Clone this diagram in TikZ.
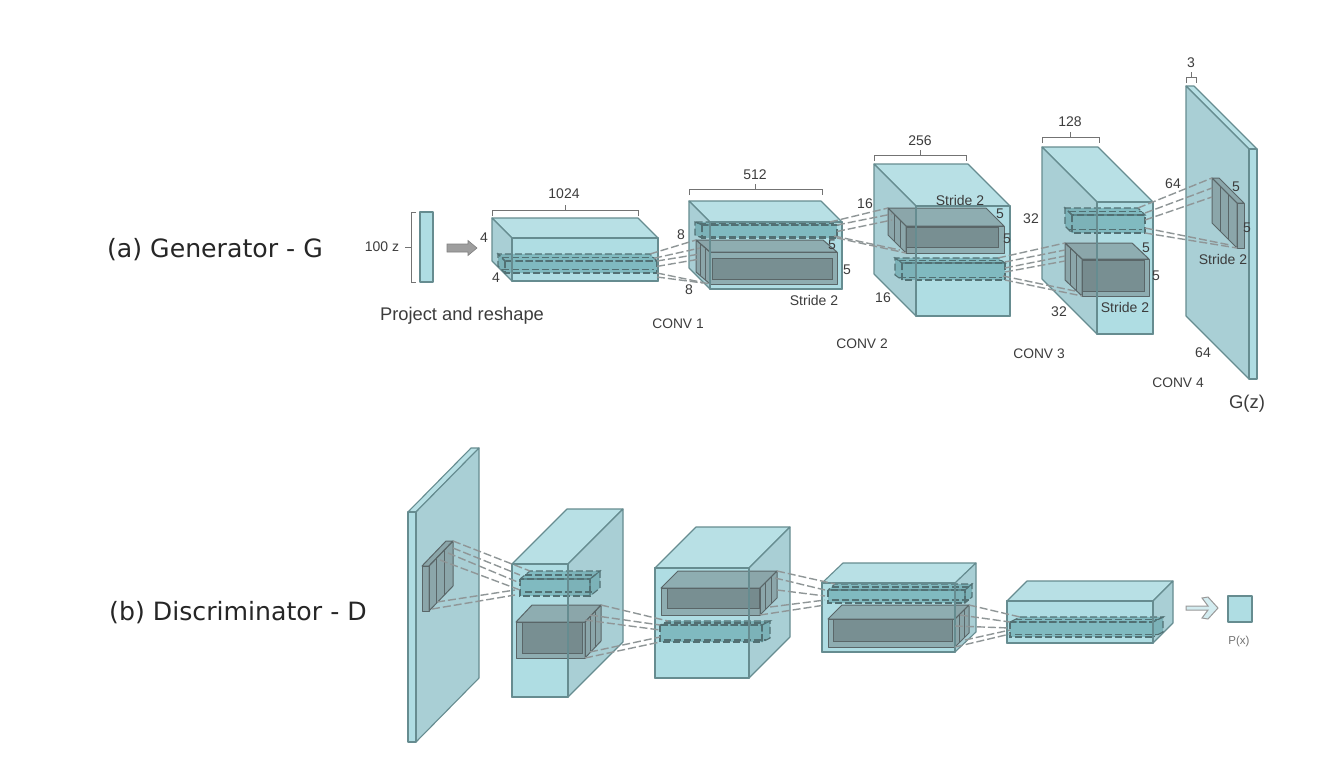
\documentclass[tikz,border=0pt]{standalone}
\usepackage{fontspec}
\setmainfont{Liberation Sans}
\newfontfamily\capfont{DejaVu Sans}
\definecolor{cfront}{HTML}{AFDDE3}
\definecolor{ctop}{HTML}{B8E0E5}
\definecolor{cside}{HTML}{A9CFD5}
\definecolor{cedge}{HTML}{668C90}
\definecolor{cgray}{HTML}{6F7F80}
\definecolor{cdark}{HTML}{5A6668}
\definecolor{cteal}{HTML}{3F8A90}
\definecolor{ctxt}{HTML}{3C3C3C}
\definecolor{cdash}{HTML}{8F9697}
\tikzset{
  edge/.style={draw=cedge,line width=1.1pt,line join=round},
  bigfront/.style={edge,fill=cfront},
  bigtop/.style={edge,fill=ctop},
  bigside/.style={edge,fill=cside},
  grayface/.style={draw=cdark,line width=1pt,line join=round,fill=cgray,fill opacity=.5},
  grayinner/.style={draw=cdark,line width=1pt,fill=cdark,fill opacity=.42},
  kernface/.style={draw=cedge!80!black,line width=1.1pt,dash pattern=on 7pt off 3pt,fill=cteal,fill opacity=.42},
  kernline/.style={draw=cedge!80!black,line width=1.1pt,dash pattern=on 7pt off 3pt},
  conn/.style={draw=cdash,line width=1.4pt,dash pattern=on 8pt off 3pt},
  lab/.style={text=ctxt,font=\fontsize{14}{16}\selectfont,inner sep=0pt,yshift=-1pt},
  conv/.style={text=ctxt,font=\fontsize{13.8}{16}\selectfont,inner sep=0pt,yshift=-1pt},
  capt/.style={text=black!85,font=\capfont\fontsize{25.2}{28}\selectfont,inner sep=0pt,yshift=-1.5pt},
  brace/.style={draw=black!55,line width=1pt},
}
% name, x1,y1,x2,y2 of the front face, dx,dy to the back face, three face styles
\newcommand{\cub}[9]{%
  \coordinate (#1-ftl) at (#2,#3);
  \coordinate (#1-ftr) at (#4,#3);
  \coordinate (#1-fbl) at (#2,#5);
  \coordinate (#1-fbr) at (#4,#5);
  \coordinate (#1-btl) at ({#2+(#6)},{#3+(#7)});
  \coordinate (#1-btr) at ({#4+(#6)},{#3+(#7)});
  \coordinate (#1-bbl) at ({#2+(#6)},{#5+(#7)});
  \coordinate (#1-bbr) at ({#4+(#6)},{#5+(#7)});
  \path[#8] (#1-ftl) -- (#1-ftr) -- (#1-btr) -- (#1-btl) -- cycle;
  \ifdim#6pt<0pt
    \path[#9] (#1-ftl) -- (#1-fbl) -- (#1-bbl) -- (#1-btl) -- cycle;
  \else
    \path[#9] (#1-ftr) -- (#1-fbr) -- (#1-bbr) -- (#1-btr) -- cycle;
  \fi
}
\newcommand{\bigbox}[7]{%
  \cub{#1}{#2}{#3}{#4}{#5}{#6}{#7}{bigtop}{bigside}
  \path[bigfront] (#1-ftl) rectangle (#1-fbr);
}
% re-stroke the front edges over what lies inside
\newcommand{\reedge}[1]{\draw[edge] (#1-ftl) rectangle (#1-fbr);}
% gray box with an inner darker face: name, front, offset, inner rect
\newcommand{\graybox}[7]{%
  \cub{#1}{#2}{#3}{#4}{#5}{#6}{#7}{grayface}{grayface}
  \path[grayface] (#1-ftl) rectangle (#1-fbr);
  \ifdim#6pt<0pt
    \foreach \f in {.33,.66}{
      \draw[draw=cdark,line width=1pt] ($(#1-ftl)!\f!(#1-btl)$) -- ($(#1-fbl)!\f!(#1-bbl)$);
    }
  \else
    \foreach \f in {.33,.66}{
      \draw[draw=cdark,line width=1pt] ($(#1-ftr)!\f!(#1-btr)$) -- ($(#1-fbr)!\f!(#1-bbr)$);
    }
  \fi
}
\newcommand{\kernbox}[7]{%
  \cub{#1}{#2}{#3}{#4}{#5}{#6}{#7}{kernface}{kernface}
  \path[kernface] (#1-ftl) rectangle (#1-fbr);
  \draw[kernline] ($(#1-ftl)!.5!(#1-btl)$) -- ($(#1-ftr)!.5!(#1-btr)$);
  \draw[kernline] ($(#1-fbl)!.5!(#1-bbl)$) -- ($(#1-fbr)!.5!(#1-bbr)$);
}
\newcommand{\topbrace}[4]{% x1,x2,y,centre
  \draw[brace] (#1,#3+6) -- (#1,#3) -- (#2,#3) -- (#2,#3+6);
  \draw[brace] (#4,#3) -- (#4,#3-5);
}
\newcommand{\lb}[4]{\node[lab] (#1) at (#2,#3) {#4};}
\newcommand{\cv}[4]{\node[conv] (#1) at (#2,#3) {#4};}
\usetikzlibrary{calc}
\begin{document}
\begin{tikzpicture}[x=1pt,y=-1pt]
\useasboundingbox (0,0) rectangle (1342,756);
\fill[white] (0,0) rectangle (1342,756);

% ---- captions
\node[capt] (capa) at (215,248) {(a) Generator - G};
\node[capt] (capb) at (238,611) {(b) Discriminator - D};

% ---- z vector
\path[bigfront] (420,212) rectangle (433,282);
\draw[brace] (416,212) -- (411,212) -- (411,282) -- (416,282);
\draw[brace] (411,247) -- (405,247);
\lb{zlab}{382}{246}{100 z}
\path[draw=black!50,fill=black!38,line width=.6pt] (447,244) -- (468,244) -- (468,240.5) -- (477,248) -- (468,255.5) -- (468,252) -- (447,252) -- cycle;
\node[text=ctxt,font=\fontsize{18.3}{20}\selectfont,inner sep=0pt,yshift=-1.5pt] (proj) at (462,314) {Project and reshape};

% ---- generator boxes
\bigbox{ga}{512}{238}{658}{281}{-20}{-20}
\kernbox{gak}{505}{261}{657}{273}{-7}{-7}
\reedge{ga}

\bigbox{gb}{710}{222}{842}{289}{-21}{-21}
\graybox{gbg}{710}{252}{837}{284}{-14}{-12}
\path[grayinner] (712,258) rectangle (832,279);
\kernbox{gbk}{702}{225}{837}{238}{-7}{-3}
\reedge{gb}

\bigbox{gc}{916}{206}{1010}{316}{-42}{-42}
\graybox{gcg}{906}{226}{1004}{253}{-18}{-18}
\path[grayinner] (906,227) rectangle (998,247);
\kernbox{gck}{902}{263}{1005}{280}{-7}{-5}
\reedge{gc}

\bigbox{gd}{1097}{202}{1153}{334}{-55}{-55}
\graybox{gdg}{1082}{259}{1149}{296}{-17}{-16}
\path[grayinner] (1082,260) rectangle (1144,291);
\kernbox{gdk}{1072}{215}{1145}{233}{-7}{-7}
\reedge{gd}

\bigbox{ge}{1249}{149}{1257}{379}{-63}{-63}
\graybox{geg}{1237}{203}{1244}{248}{-25}{-25}

% ---- generator connectors
\coordinate (g1a) at (700,248);
\coordinate (g1b) at (700,254);
\coordinate (g1c) at (700,259);
\coordinate (g1d) at (703,283);
\draw[conn] (gak-btr) -- (gbg-btl);
\draw[conn] ($(gak-ftr)!.4!(gak-btr)$) -- (g1a);
\draw[conn] (gak-ftr) -- (g1b);
\draw[conn] ($(gak-ftr)!.45!(gak-fbr)$) -- (g1c);
\draw[conn] (gak-fbr) -- (gbg-fbl);
\draw[conn] ($(gak-fbr)+(0,4)$) -- (g1d);

\coordinate (g2a) at (892,214);
\coordinate (g2b) at (892,220);
\coordinate (g2c) at (900,250);
\draw[conn] (gbk-btr) -- (gcg-btl);
\draw[conn] (gbk-ftr) -- (g2a);
\draw[conn] ($(gbk-ftr)!.5!(gbk-fbr)$) -- (g2b);
\draw[conn] (gbk-fbr) -- (gcg-fbl);
\draw[conn] ($(gbk-fbr)+(-3,-2)$) -- (g2c);

\coordinate (g3a) at (1065,250);
\coordinate (g3b) at (1065,256);
\coordinate (g3c) at (1075,291);
\coordinate (g3d) at (1065,261);
\draw[conn] (gck-btr) -- (gdg-btl);
\draw[conn] ($(gck-ftr)+(0,-1)$) -- (g3a);
\draw[conn] ($(gck-ftr)+(0,5)$) -- (g3b);
\draw[conn] (gck-fbr) -- (gdg-fbl);
\draw[conn] ($(gck-fbr)+(-2,-4)$) -- (g3c);
\draw[conn] ($(gck-ftr)+(0,9)$) -- (g3d);

\coordinate (g4a) at (1212,188);
\coordinate (g4b) at (1212,197);
\coordinate (g4c) at (1230,245);
\draw[conn] (gdk-btr) -- (geg-btl);
\draw[conn] ($(gdk-ftr)+(0,-2)$) -- (g4a);
\draw[conn] ($(gdk-ftr)+(0,5)$) -- (g4b);
\draw[conn] (gdk-fbr) -- (geg-fbl);
\draw[conn] ($(gdk-fbr)+(0,-5)$) -- (g4c);

% ---- generator braces
\topbrace{492}{638}{210}{565}
\topbrace{689}{822}{189}{755}
\topbrace{874}{966}{155}{920}
\topbrace{1042}{1099}{137}{1070}
\topbrace{1186}{1196}{77}{1191}

% ---- generator labels
\lb{t1024}{564}{193}{1024}
\lb{t512}{755}{174}{512}
\lb{t256}{920}{140}{256}
\lb{t128}{1070}{121}{128}
\lb{t3}{1191}{62}{3}
\lb{t4a}{484}{237}{4}
\lb{t4b}{496}{277}{4}
\lb{t8a}{681}{234}{8}
\lb{t8b}{689}{289}{8}
\lb{t5a}{832}{244}{5}
\lb{t5b}{847}{269}{5}
\lb{s1}{814}{299}{Stride 2}
\lb{t16a}{865}{203}{16}
\lb{t16b}{883}{297}{16}
\lb{s2}{960}{199}{Stride 2}
\lb{t5c}{1000}{213}{5}
\lb{t5d}{1007}{238}{5}
\lb{t32a}{1031}{218}{32}
\lb{t32b}{1059}{311}{32}
\lb{t5e}{1146}{247}{5}
\lb{t5f}{1156}{275}{5}
\lb{s3}{1125}{306}{Stride 2}
\lb{t64a}{1173}{183}{64}
\lb{t64b}{1203}{352}{64}
\lb{t5g}{1236}{186}{5}
\lb{t5h}{1247}{227}{5}
\lb{s4}{1223}{258}{Stride 2}
\cv{c1}{678}{323}{CONV 1}
\cv{c2}{862}{343}{CONV 2}
\cv{c3}{1039}{353}{CONV 3}
\cv{c4}{1178}{382}{CONV 4}
\node[text=ctxt,font=\fontsize{18.5}{20}\selectfont,inner sep=0pt,yshift=-1pt] (gz) at (1247,403) {G(z)};

% ---- discriminator boxes
\bigbox{da}{408}{512}{416}{742}{63}{-64}
\graybox{dag}{422}{566}{429}{611}{24}{-25}

\bigbox{db}{512}{564}{568}{697}{55}{-55}
\graybox{dbg}{516}{622}{585}{658}{16}{-17}
\path[grayinner] (522,622) rectangle (582,653);
\kernbox{dbk}{520}{579}{590}{596}{10}{-8}
\reedge{db}

\bigbox{dc}{655}{568}{749}{678}{41}{-41}
\graybox{dcg}{661}{588}{760}{615}{17}{-17}
\path[grayinner] (667,588) rectangle (759,608);
\kernbox{dck}{660}{625}{762}{642}{8}{-4}
\reedge{dc}

\bigbox{dd}{822}{583}{955}{652}{21}{-20}
\graybox{ddg}{828}{619}{955}{647}{14}{-14}
\path[grayinner] (833,619) rectangle (952,641);
\kernbox{ddk}{828}{590}{965}{603}{7}{-6}
\reedge{dd}

\bigbox{de}{1007}{601}{1153}{643}{20}{-20}
\kernbox{dek}{1010}{622}{1153}{637}{10}{-5}
\reedge{de}

% ---- discriminator connectors
\coordinate (d1a) at (520,575);
\coordinate (d1b) at (520,583);
\coordinate (d1c) at (520,590);
\coordinate (d1d) at (515,590);
\coordinate (d1e) at (515,595);
\draw[conn] (dag-btr) -- (dbk-btl);
\draw[conn] ($(dag-btr)+(0,7)$) -- (d1a);
\draw[conn] ($(dag-btr)+(-5,12)$) -- (d1b);
\draw[conn] ($(dag-btr)+(-13,19)$) -- (d1c);
\draw[conn] ($(dag-fbr)+(8,-9)$) -- (d1d);
\draw[conn] ($(dag-fbr)+(3,-2)$) -- (d1e);

\coordinate (d2a) at (660,625);
\coordinate (d2b) at (660,630);
\coordinate (d2c) at (660,637);
\draw[conn] (dbg-btr) -- (dck-btl);
\draw[conn] ($(dbg-btr)+(-11,10)$) -- (d2a);
\draw[conn] ($(dbg-btr)+(-16,15)$) -- (d2b);
\draw[conn] (dbg-fbr) -- (dck-fbl);
\draw[conn] ($(dbg-fbr)+(5,-6)$) -- (d2c);

\coordinate (d3a) at (825,590);
\coordinate (d3b) at (825,596);
\coordinate (d3c) at (825,600);
\coordinate (d3d) at (825,605);
\draw[conn] (dcg-btr) -- (ddk-btl);
\draw[conn] ($(dcg-btr)+(-2,7)$) -- (d3a);
\draw[conn] ($(dcg-btr)+(0,19)$) -- (d3b);
\draw[conn] ($(dcg-fbr)+(10,-8)$) -- (d3c);
\draw[conn] (dcg-fbr) -- (d3d);

\coordinate (d4a) at (1010,622);
\coordinate (d4b) at (1010,628);
\coordinate (d4c) at (1010,630);
\coordinate (d4d) at (1010,634);
\draw[conn] (ddg-btr) -- (dek-btl);
\draw[conn] ($(ddg-btr)+(-9,10)$) -- (d4a);
\draw[conn] ($(ddg-btr)+(-14,21)$) -- (d4b);
\draw[conn] ($(ddg-fbr)+(10,-7)$) -- (d4c);
\draw[conn] (ddg-fbr) -- (d4d);

% ---- output
\path[draw=black!40,fill=cfront!55,line width=1pt] (1186,606) -- (1208,606) -- (1202,598) -- (1208,597) -- (1218,608) -- (1208,619) -- (1202,618) -- (1208,610) -- (1186,610) -- cycle;
\path[bigfront] (1228,596) rectangle (1252,622);
\node[text=black!55,font=\fontsize{11.5}{13}\selectfont,inner sep=0pt] (px) at (1239,642) {P(x)};
\end{tikzpicture}
\end{document}
